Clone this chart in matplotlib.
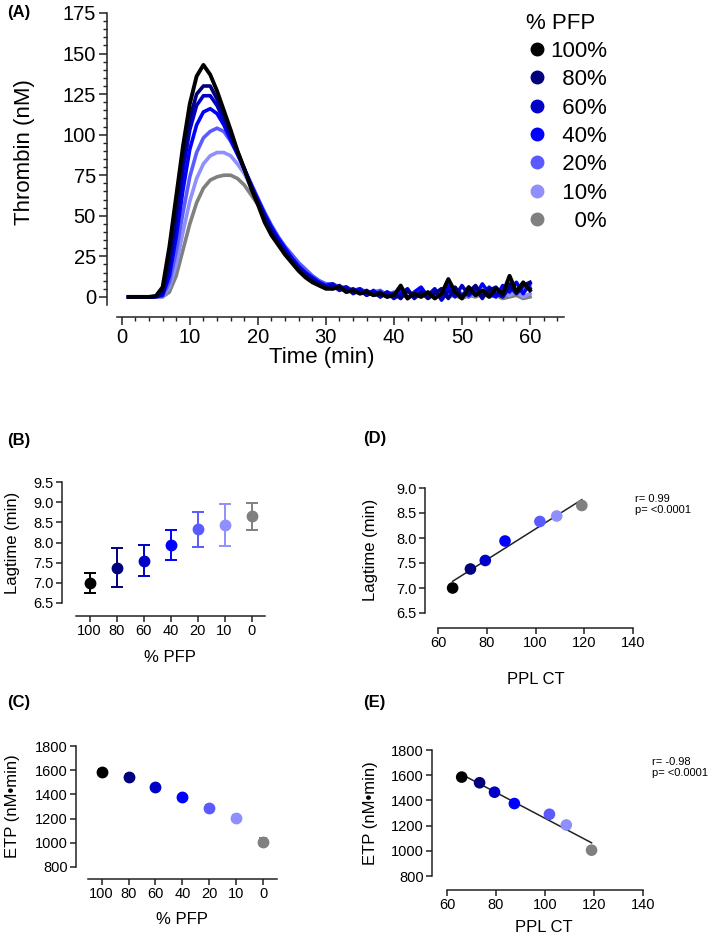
import numpy as np
import matplotlib.pyplot as plt
from matplotlib.lines import Line2D

plt.rcParams['font.family'] = ['Liberation Sans', 'DejaVu Sans']

W, H = 709, 936

# thrombin generation curves, one value per minute (1..60 min)
time_min = np.arange(1, 61)
thrombin_100 = [0, 0, 0, 0, 0.5, 6, 31, 62, 93, 119, 136, 143, 137, 127, 115, 103, 90, 79, 67, 57,
                46, 38, 32, 26, 21, 16, 12, 9, 7, 5, 5, 6, 3, 4, 2, 3, 1, 2, 0, 1,
                7, -1, 2, 0, 3, -1, 2, 11, 3, -1, 6, 1, 4, 0, 5, 2, 13, 3, 9, 4]
thrombin_80 = [0, 0, 0, 0, 0.3, 3, 22, 52, 85, 110, 125, 130, 130, 122, 112, 101, 90, 79, 68, 58,
               48, 40, 33, 27, 22, 17, 13, 10, 8, 6, 5, 7, 3, 5, 2, 4, 1, 3, 0, 2,
               -1, 4, 0, 3, -1, 2, 5, -1, 6, 0, 3, 7, 0, 4, 6, 1, 8, 2, 7, 9]
thrombin_60 = [0, 0, 0, 0, 0.2, 2, 18, 45, 78, 103, 118, 124, 124, 118, 109, 99, 89, 79, 69, 59,
               50, 41, 34, 28, 23, 18, 14, 11, 8, 6, 7, 4, 6, 2, 4, 1, 3, 0, 3, -1,
               2, 5, -1, 3, 1, 5, -2, 4, 0, 7, 1, 5, -1, 6, 2, 0, 6, 3, 8, 5]
thrombin_40 = [0, 0, 0, 0, 0.1, 1, 13, 37, 66, 91, 106, 114, 116, 113, 106, 97, 88, 79, 69, 60,
               51, 43, 36, 30, 24, 19, 15, 12, 9, 7, 8, 5, 6, 3, 5, 1, 4, 0, 3, 1,
               5, -1, 3, 6, 0, 4, -1, 7, 2, 0, 6, 1, 8, 2, 0, 7, 3, 9, 2, 8]
thrombin_20 = [0, 0, 0, 0, 0, 0.5, 9, 28, 52, 74, 89, 98, 102, 104, 102, 96, 88, 79, 70, 61,
               52, 44, 37, 31, 26, 21, 17, 13, 10, 8, 8, 6, 6, 4, 5, 3, 3, 4, 1, 3,
               0, 3, 1, 4, 0, 2, 5, 1, 4, 2, 0, 4, 2, 5, 1, 3, 6, 2, 5, 6]
thrombin_10 = [0, 0, 0, 0, 0, 0, 6, 20, 40, 59, 73, 82, 87, 89, 89, 87, 82, 76, 68, 60,
               52, 44, 37, 31, 26, 21, 17, 13, 10, 8, 7, 6, 5, 4, 3, 3, 2, 2, 1, 1,
               2, 0, 1, 2, 0, 1, 3, 0, 2, 1, 0, 2, 1, 3, 0, 2, 1, 3, 0, 2]
thrombin_0 = [0, 0, 0, 0, 0, 0, 3, 13, 29, 45, 58, 67, 72, 74, 75, 75, 73, 69, 63, 57,
              50, 43, 36, 30, 25, 20, 16, 12, 9, 7, 6, 5, 4, 3, 3, 2, 2, 1, 1, 0,
              1, 0, 1, 0, 2, 0, 1, 0, 1, -1, 1, 0, 2, 0, 1, -1, 0, 1, -1, 0]

pfp_ticks = ['100', '80', '60', '40', '20', '10', '0']
legend_labels = ['100%', '  80%', '  60%', '  40%', '  20%', '  10%', '    0%']
colors = ['#000000', '#00007f', '#0000c8', '#0000ff', '#5a5aff', '#8f8fff', '#808080']

lagtime_mean = [7.0, 7.38, 7.55, 7.94, 8.33, 8.44, 8.65]
lagtime_err = [0.25, 0.49, 0.385, 0.37, 0.435, 0.525, 0.335]
etp_mean = [1585, 1540, 1465, 1375, 1290, 1205, 1005]
etp_err = [25, 25, 15, 20, 20, 25, 35]
ppl_ct = [66, 73.3, 79.4, 87.5, 101.8, 108.7, 119]

curves = [thrombin_100, thrombin_80, thrombin_60, thrombin_40, thrombin_20, thrombin_10, thrombin_0]

fig = plt.figure(figsize=(W / 100, H / 100), dpi=100)


def px_axes(l, t, r, b):
    return fig.add_axes([l / W, 1 - b / H, (r - l) / W, (b - t) / H])


def prism(ax, loff, boff, size, lw=1.1):
    ax.spines[['top', 'right']].set_visible(False)
    ax.spines['left'].set_position(('outward', loff * 0.72))
    ax.spines['bottom'].set_position(('outward', boff * 0.72))
    for s in ['left', 'bottom']:
        ax.spines[s].set_linewidth(lw)
        ax.spines[s].set_color('#222222')
    ax.tick_params(labelsize=size, width=lw, length=4, color='#222222', pad=2)


def ftext(x, y, s, **kw):
    fig.text(x / W, 1 - y / H, s, ha='center', va='center', **kw)


# (A) thrombin generation
axA = px_axes(117, 13, 564, 305)
for i in range(6, -1, -1):
    axA.plot(time_min, curves[i], color=colors[i], lw=2.6 if i else 2.8, zorder=3 + (6 - i))
axA.set_xlim(-0.7, 65)
axA.set_ylim(-5, 175)
axA.set_xticks(range(0, 61, 10))
axA.set_xticks(range(0, 65, 2), minor=True)
axA.set_yticks(range(0, 176, 25))
axA.set_yticks(range(0, 176, 5), minor=True)
prism(axA, 10, 12, 14.5)
axA.tick_params(length=6)
axA.tick_params(which='minor', length=3, width=1, color='#222222')
handles = [Line2D([], [], ls='none', marker='o', ms=9, color=c) for c in colors]
leg = axA.legend(handles, legend_labels, title='% PFP', frameon=False, fontsize=16,
                 title_fontsize=16, loc='upper left', bbox_to_anchor=((506 - 117) / 447, 1.07),
                 handletextpad=0.1, handlelength=1.0, labelspacing=0.33, alignment='left')
ftext(25, 152, 'Thrombin (nM)', fontsize=16, rotation=90)
ftext(322, 358, 'Time (min)', fontsize=16)

# (B) lagtime vs % PFP
axB = px_axes(76, 482, 265, 603)
for i in range(7):
    axB.errorbar(i, lagtime_mean[i], yerr=lagtime_err[i], fmt='o', color=colors[i], ms=7.5,
                 capsize=4, elinewidth=1.4, capthick=1.4)
axB.set_xlim(-0.5, 6.5)
axB.set_ylim(6.5, 9.5)
axB.set_yticks(np.arange(6.5, 9.6, 0.5))
axB.set_yticklabels([f'{v:.1f}' for v in np.arange(6.5, 9.6, 0.5)])
axB.set_xticks(range(7))
axB.set_xticklabels(pfp_ticks)
prism(axB, 14, 13, 10.5)
ftext(13, 543, 'Lagtime (min)', fontsize=12, rotation=90)
ftext(170, 657, '% PFP', fontsize=12)

# (C) ETP vs % PFP
axC = px_axes(88, 746, 277, 867)
for i in range(7):
    axC.errorbar(i, etp_mean[i], yerr=etp_err[i], fmt='o', color=colors[i], ms=7.5,
                 capsize=3, elinewidth=1.4, capthick=1.4)
axC.set_xlim(-0.5, 6.5)
axC.set_ylim(800, 1800)
axC.set_yticks(range(800, 1801, 200))
axC.set_xticks(range(7))
axC.set_xticklabels(pfp_ticks)
prism(axC, 12, 12, 10.5)
ftext(13, 806, 'ETP (nM•min)', fontsize=12, rotation=90)
ftext(182, 920, '% PFP', fontsize=12)

# (D) lagtime vs PPL CT
axD = px_axes(438, 488, 633, 613)
fit = np.polyfit(ppl_ct, lagtime_mean, 1)
xs = np.array([min(ppl_ct), max(ppl_ct)])
axD.plot(xs, np.polyval(fit, xs), color='#222222', lw=1.1, zorder=2)
axD.scatter(ppl_ct, lagtime_mean, c=colors, s=70, zorder=3, linewidths=0)
axD.set_xlim(60, 140)
axD.set_ylim(6.5, 9.0)
axD.set_xticks(range(60, 141, 20))
axD.set_yticks(np.arange(6.5, 9.1, 0.5))
axD.set_yticklabels([f'{v:.1f}' for v in np.arange(6.5, 9.1, 0.5)])
prism(axD, 13, 15, 10.5)
fig.text(635 / W, 1 - 494 / H, 'r= 0.99\np= <0.0001', fontsize=8, va='top', linespacing=1.1)
ftext(370, 550, 'Lagtime (min)', fontsize=12, rotation=90)
ftext(536, 680, 'PPL CT', fontsize=12)

# (E) ETP vs PPL CT
axE = px_axes(447, 750, 643, 876)
fit = np.polyfit(ppl_ct, etp_mean, 1)
axE.plot(xs, np.polyval(fit, xs), color='#222222', lw=1.1, zorder=2)
axE.scatter(ppl_ct, etp_mean, c=colors, s=70, zorder=3, linewidths=0)
axE.set_xlim(60, 140)
axE.set_ylim(800, 1800)
axE.set_xticks(range(60, 141, 20))
axE.set_yticks(range(800, 1801, 200))
prism(axE, 15, 14, 10.5)
fig.text(652 / W, 1 - 757 / H, 'r= -0.98\np= <0.0001', fontsize=8, va='top', linespacing=1.1)
ftext(370, 813, 'ETP (nM•min)', fontsize=12, rotation=90)
ftext(544, 927, 'PPL CT', fontsize=12)

# panel letters
for lab, x, y in [('(A)', 19, 13), ('(B)', 19, 440), ('(C)', 19, 702), ('(D)', 375, 439), ('(E)', 374, 702)]:
    ftext(x, y, lab, fontsize=12, fontweight='bold')

fig.savefig('out.png', dpi=100)
